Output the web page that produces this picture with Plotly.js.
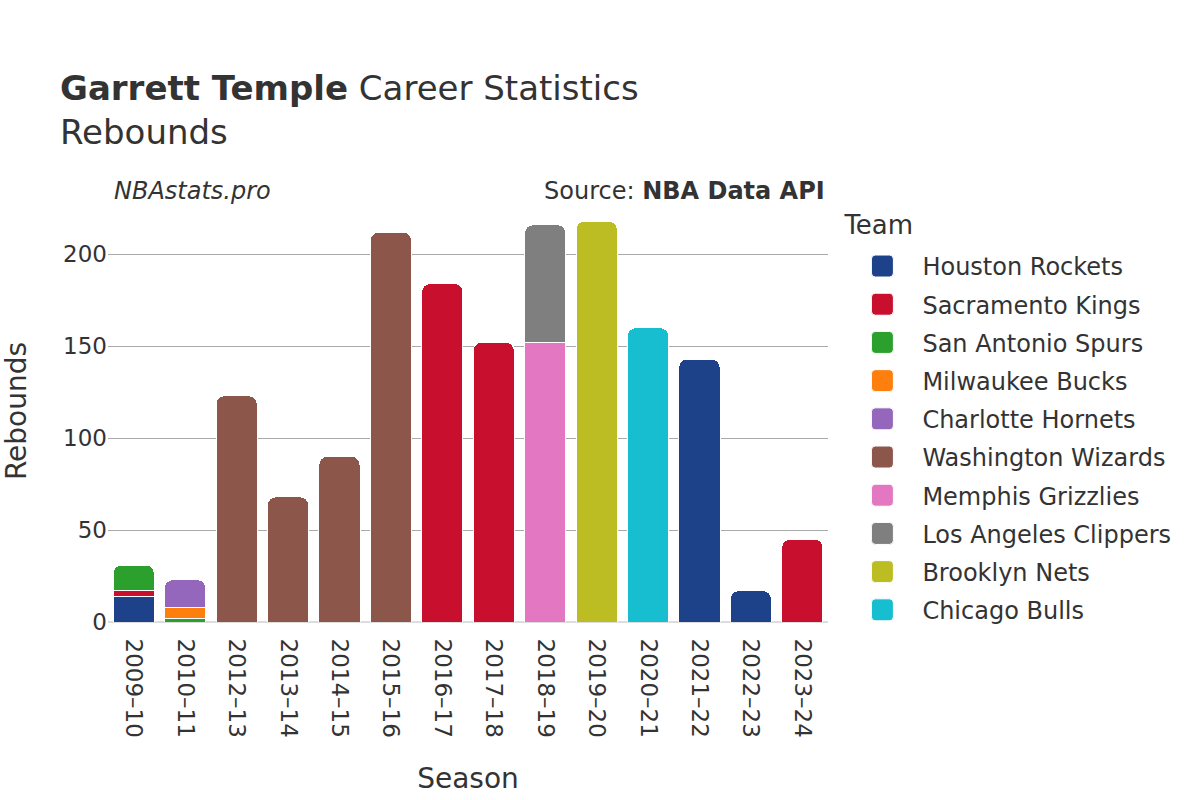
<!DOCTYPE html>
<html>
<head>
<meta charset="utf-8">
<script src="https://cdn.plot.ly/plotly-3.0.1.min.js"></script>
<style>html,body{margin:0;padding:0;background:#fff;}#chart{width:1200px;height:800px;}</style>
</head>
<body>
<div id="chart"></div>
<script>
const seasons = ["2009–10","2010–11","2012–13","2013–14","2014–15","2015–16","2016–17","2017–18","2018–19","2019–20","2020–21","2021–22","2022–23","2023–24"];
const teams = ["Houston Rockets","Sacramento Kings","San Antonio Spurs","Milwaukee Bucks","Charlotte Hornets","Washington Wizards","Memphis Grizzlies","Los Angeles Clippers","Brooklyn Nets","Chicago Bulls"];
const colors = ["#1d428a","#c8102e","#2ca02c","#ff7f0e","#9467bd","#8c564b","#e377c2","#7f7f7f","#bcbd22","#17becf"];
const houston    = [14,null,null,null,null,null,null,null,null,null,null,143,17,null];
const sacramento = [3,null,null,null,null,null,184,152,null,null,null,null,null,45];
const spurs      = [14,2,null,null,null,null,null,null,null,null,null,null,null,null];
const bucks      = [null,6,null,null,null,null,null,null,null,null,null,null,null,null];
const hornets    = [null,15,null,null,null,null,null,null,null,null,null,null,null,null];
const wizards    = [null,null,123,68,90,212,null,null,null,null,null,null,null,null];
const memphis    = [null,null,null,null,null,null,null,null,152,null,null,null,null,null];
const clippers   = [null,null,null,null,null,null,null,null,64,null,null,null,null,null];
const nets       = [null,null,null,null,null,null,null,null,null,218,null,null,null,null];
const bulls      = [null,null,null,null,null,null,null,null,null,null,160,null,null,null];
const series = [houston,sacramento,spurs,bucks,hornets,wizards,memphis,clippers,nets,bulls];

const FONT = "DejaVu Sans";
const data = series.map((vals,i)=>({
  type:"bar", name:teams[i], x:seasons, y:vals,
  legendgroup:"g"+i,
  marker:{color:colors[i], line:{color:"#ffffff", width:1}},
  hovertemplate:"%{x}: %{y}<extra>"+teams[i]+"</extra>"
}));

const layout = {
  width:1200, height:800,
  barmode:"stack", bargap:0.2, barcornerradius:8,
  font:{family:FONT, color:"#333", size:23},
  paper_bgcolor:"#fff", plot_bgcolor:"#fff",
  margin:{l:108, r:372, t:200, b:178},
  title:{text:"<b>Garrett Temple</b> Career Statistics<br>Rebounds", x:0.05, xanchor:"left", y:0.875, yanchor:"top", font:{family:FONT, size:34, color:"#333"}},
  xaxis:{title:{text:"Season", font:{size:28}, standoff:31}, tickangle:90, tickfont:{size:23}, type:"category", showgrid:false, zeroline:false, ticks:"outside", ticklen:11, tickcolor:"rgba(0,0,0,0)"},
  yaxis:{title:{text:"Rebounds", font:{size:28}, standoff:30}, tickfont:{size:23}, gridcolor:"#aaaaaa", gridwidth:1, zeroline:true, zerolinecolor:"#dddddd", zerolinewidth:2, range:[0,229.5], tickvals:[0,50,100,150,200]},
  legend:{title:{text:"Team", font:{size:26}}, font:{size:24}, x:1.02, xanchor:"left", y:0.976, yanchor:"top", traceorder:"grouped", itemwidth:70, tracegroupgap:4},
  annotations:[
    {text:"<i>NBAstats.pro</i>", xref:"paper", yref:"paper", x:0.005, y:1.0213, xanchor:"left", yanchor:"middle", showarrow:false, font:{size:24, color:"#333"}},
    {text:"Source: <b>NBA Data API</b>", xref:"paper", yref:"paper", x:0.998, y:1.0213, xanchor:"right", yanchor:"middle", showarrow:false, font:{size:24, color:"#333"}}
  ]
};
Plotly.newPlot("chart", data, layout, {displayModeBar:false, responsive:false}).then(gd=>{
  gd.querySelectorAll(".legend .legendpoints path").forEach(p=>{
    p.setAttribute("d","M-7,-11H7A4,4 0 0 1 11,-7V7A4,4 0 0 1 7,11H-7A4,4 0 0 1 -11,7V-7A4,4 0 0 1 -7,-11Z");
  });
  const t = gd.querySelector(".legend .legendtitletext");
  if (t) { t.setAttribute("transform","translate(0,-10)"); }
});
</script>
</body>
</html>
